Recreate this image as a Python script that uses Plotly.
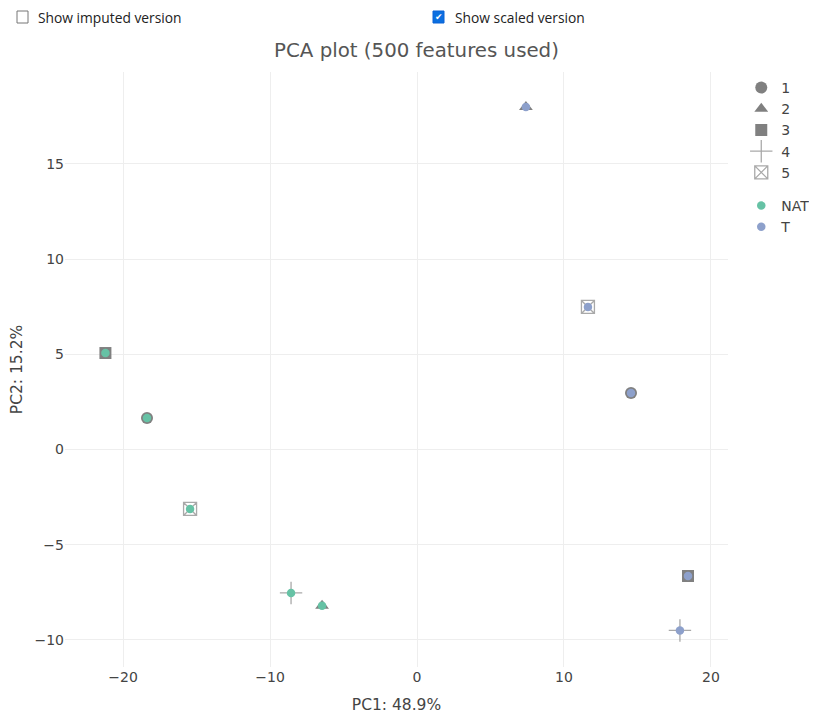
import plotly.graph_objects as go

# ---- data ----
groups = ["NAT", "NAT", "NAT", "NAT", "NAT", "T", "T", "T", "T", "T"]
replicates = ["1", "2", "3", "4", "5", "1", "2", "3", "4", "5"]
pc1 = [-18.37, -6.46, -21.2, -8.57, -15.44, 14.56, 7.41, 18.44, 17.89, 11.63]
pc2 = [1.66, -8.2, 5.07, -7.53, -3.12, 2.97, 17.99, -6.64, -9.5, 7.49]

group_names = ["NAT", "T"]
group_colors = {"NAT": "#66c2a5", "T": "#8da0cb"}
replicate_names = ["1", "2", "3", "4", "5"]
replicate_symbols = {"1": "circle", "2": "triangle-up", "3": "square",
                     "4": "cross-thin-open", "5": "square-x-open"}

x_ticks = [-20, -10, 0, 10, 20]
y_ticks = [-10, -5, 0, 5, 10, 15]

title_text = "PCA plot (500 features used)"
x_title = "PC1: 48.9%"
y_title = "PC2: 15.2%"
checkbox_labels = ["Show imputed version", "Show scaled version"]

FONT = "DejaVu Sans, Verdana, sans-serif"

fig = go.Figure()

# gray symbol layer
for r in replicate_names:
    xs = [x for x, rr in zip(pc1, replicates) if rr == r]
    ys = [y for y, rr in zip(pc2, replicates) if rr == r]
    sym = replicate_symbols[r]
    is_open = sym.endswith("open")
    if sym.startswith("cross"):
        size = 16
    elif is_open:
        size = 13
    else:
        size = 12
    col = "#a9a9a9" if is_open else "#808080"
    fig.add_trace(go.Scatter(
        x=xs, y=ys, mode="markers", name=r, legendgroup="sym",
        marker=dict(symbol=sym, size=size, color=col,
                    line=dict(width=1.3, color=col) if is_open else dict(width=0)),
    ))

# colored circle layer
for g in group_names:
    xs = [x for x, gg in zip(pc1, groups) if gg == g]
    ys = [y for y, gg in zip(pc2, groups) if gg == g]
    fig.add_trace(go.Scatter(
        x=xs, y=ys, mode="markers", name=g, legendgroup="col",
        marker=dict(symbol="circle", size=8.5, color=group_colors[g], line=dict(width=0)),
    ))

OFF = 8  # page body margin
W, H = 817 - OFF, 715 - OFF
L = 65 - OFF
T = 72 - OFF
R = 817 - 728
B = 715 - 667
pw, ph = W - L - R, H - T - B


def px_x(p):  # screen px -> paper
    return (p - OFF - L) / pw


def px_y(p):
    return (H - B - (p - OFF)) / ph


shapes = [
    dict(type="rect", xref="paper", yref="paper",
         x0=px_x(17), x1=px_x(28), y0=px_y(23), y1=px_y(11),
         line=dict(color="#767676", width=1), fillcolor="white", layer="above"),
    dict(type="rect", xref="paper", yref="paper",
         x0=px_x(433), x1=px_x(444), y0=px_y(23), y1=px_y(11),
         line=dict(color="#0b63d6", width=1), fillcolor="#0b6fe0", layer="above"),
]

annotations = [
    dict(text=checkbox_labels[0], xref="paper", yref="paper",
         x=px_x(36), y=px_y(17), xanchor="left", yanchor="middle", showarrow=False,
         font=dict(size=13.8, color="#222", family="Open Sans")),
    dict(text=checkbox_labels[1], xref="paper", yref="paper",
         x=px_x(453), y=px_y(17), xanchor="left", yanchor="middle", showarrow=False,
         font=dict(size=13.8, color="#222", family="Open Sans")),
    dict(text="✔", xref="paper", yref="paper",
         x=px_x(438.5), y=px_y(17), xanchor="center", yanchor="middle", showarrow=False,
         font=dict(size=9, color="white", family="DejaVu Sans")),
]

fig.update_layout(
    width=W, height=H,
    margin=dict(l=L, r=R, t=T, b=B, autoexpand=False),
    paper_bgcolor="white", plot_bgcolor="white",
    font=dict(family=FONT, size=14, color="#444"),
    title=dict(text=title_text, x=(416.5 - OFF) / W, xanchor="center",
               y=1 - (50 - OFF) / H, yanchor="middle",
               font=dict(size=19.8, color="#555")),
    xaxis=dict(title=dict(text=x_title, font=dict(size=15.5)), range=[-23.95, 21.16],
               tickvals=x_ticks, gridcolor="#eeeeee", zeroline=False,
               showline=False, ticks="", automargin=False),
    yaxis=dict(title=dict(text=y_title, font=dict(size=15.5)), range=[-11.42, 19.83],
               tickvals=y_ticks, gridcolor="#eeeeee", zeroline=False,
               showline=False, ticks="", automargin=False),
    legend=dict(tracegroupgap=12, font=dict(size=14), itemsizing="trace"),
    shapes=shapes, annotations=annotations,
)

fig.write_html("out.html")
